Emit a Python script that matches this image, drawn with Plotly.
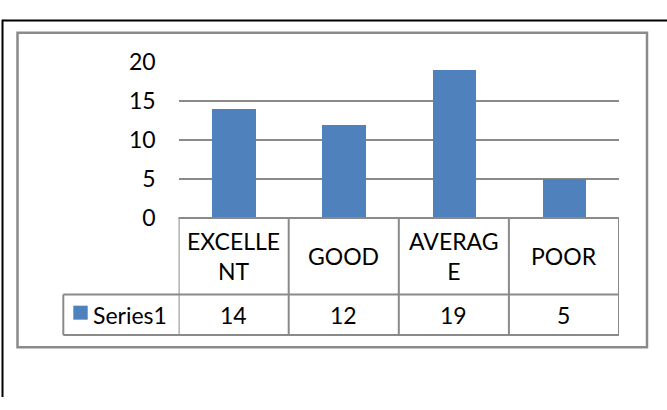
import plotly.graph_objects as go

# ---- data ----
categories = ["EXCELLENT", "GOOD", "AVERAGE", "POOR"]
category_labels = ["EXCELLE<br>NT", "GOOD", "AVERAG<br>E", "POOR"]
series_name = "Series1"
values = [14, 12, 19, 5]
y_ticks = [0, 5, 10, 15, 20]

W, H = 667, 410
BAR = "#4F81BD"
GRID = "#8a8a8a"
FONT = "Lato"

def px(x):
    return x / W

def py(y):
    return 1 - y / H

x_pos = list(range(len(categories)))

fig = go.Figure()
fig.add_trace(go.Bar(
    x=x_pos, y=values, name=series_name, width=0.394,
    marker=dict(color=BAR, line=dict(width=0)),
    showlegend=False, hoverinfo="skip",
))

plot_l, plot_r = 178.6, 619.0
y0_px, y20_px = 218.0, 50.0
row1_b, row2_b = 300.0, 343.5
cell_l = 63.3

shapes = []
# outer black frame (top + left)
shapes.append(dict(type="line", xref="paper", yref="paper", x0=px(2), x1=1.0, y0=py(6), y1=py(6),
                   line=dict(color="black", width=2)))
shapes.append(dict(type="line", xref="paper", yref="paper", x0=px(2.5), x1=px(2.5), y0=py(5), y1=0,
                   line=dict(color="black", width=2)))
# chart area border
shapes.append(dict(type="rect", xref="paper", yref="paper", x0=px(17.5), x1=px(647), y0=py(19), y1=py(356.5),
                   line=dict(color=GRID, width=2.5)))
# data table horizontal lines
shapes.append(dict(type="line", xref="paper", yref="paper", x0=px(plot_l), x1=px(plot_r), y0=py(y0_px), y1=py(y0_px),
                   line=dict(color=GRID, width=2)))
for yy in (row1_b, row2_b):
    shapes.append(dict(type="line", xref="paper", yref="paper", x0=px(cell_l), x1=px(plot_r), y0=py(yy), y1=py(yy),
                       line=dict(color=GRID, width=2)))
# data table vertical lines at category boundaries
for i in range(len(categories) + 1):
    shapes.append(dict(type="line", xref="x", yref="paper", x0=i - 0.5, x1=i - 0.5, y0=py(y0_px), y1=py(row2_b),
                       line=dict(color=GRID, width=2)))
shapes.append(dict(type="line", xref="paper", yref="paper", x0=px(cell_l), x1=px(cell_l), y0=py(row1_b), y1=py(row2_b),
                   line=dict(color=GRID, width=2)))
# legend key
shapes.append(dict(type="rect", xref="paper", yref="paper", x0=px(73.3), x1=px(87.7), y0=py(312), y1=py(327),
                   fillcolor=BAR, line=dict(width=0)))

annotations = []
row1_c = (y0_px + row1_b) / 2
row2_c = (row1_b + row2_b) / 2 + 0.5
for i, lab in enumerate(category_labels):
    annotations.append(dict(x=i, xref="x", y=py(row1_c), yref="paper", text=lab, showarrow=False,
                            xanchor="center", yanchor="middle", font=dict(family=FONT, size=23, color="black")))
for i, v in enumerate(values):
    annotations.append(dict(x=i, xref="x", y=py(row2_c), yref="paper", text=str(v), showarrow=False,
                            xanchor="center", yanchor="middle", font=dict(family=FONT, size=23, color="black")))
annotations.append(dict(x=px(91), xref="paper", y=py(row2_c), yref="paper", text=series_name, showarrow=False,
                        xanchor="left", yanchor="middle", font=dict(family=FONT, size=23, color="black")))

fig.update_layout(
    width=W, height=H,
    margin=dict(l=0, r=0, t=0, b=0),
    paper_bgcolor="white", plot_bgcolor="white",
    shapes=shapes, annotations=annotations,
    xaxis=dict(domain=[px(plot_l), px(plot_r)], range=[-0.5, len(categories) - 0.5],
               showticklabels=False, showgrid=False, zeroline=False, showline=False, fixedrange=True),
    yaxis=dict(domain=[py(y0_px), py(y20_px)], range=[0, 20], tickvals=y_ticks,
               showgrid=True, gridcolor=GRID, gridwidth=2, zeroline=False, showline=False,
               ticklabelstandoff=22, tickfont=dict(family=FONT, size=23, color="black"), fixedrange=True),
    bargap=0,
)

fig.write_html("out.html")
